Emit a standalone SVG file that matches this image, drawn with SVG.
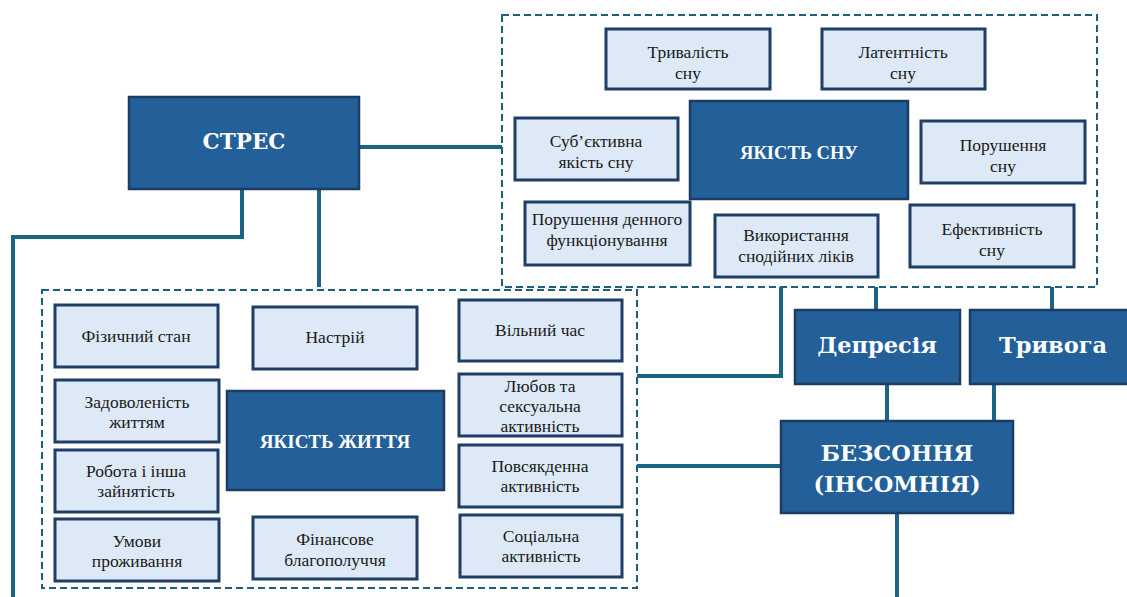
<svg xmlns="http://www.w3.org/2000/svg" width="1127" height="597" viewBox="0 0 1127 597">
<style>
.frame{fill:none;stroke:#1d5e7e;stroke-width:2;stroke-dasharray:7 4}
.lt{fill:#dde9f6;stroke:#1f3e66;stroke-width:3}
.dk{fill:#235f99;stroke:#1b3d64;stroke-width:2.5}
.lbl{font-family:"Liberation Serif","DejaVu Serif",serif;font-size:17.5px;fill:#1a1a1a;text-anchor:middle}
.dkl{font-family:"Liberation Serif","DejaVu Serif",serif;font-weight:bold;fill:#fff;text-anchor:middle}
.wide{font-family:"DejaVu Serif","Liberation Serif",serif;font-weight:bold;fill:#fff;text-anchor:middle}
.con{fill:none;stroke:#1b6584;stroke-width:4}
</style>
<rect width="1127" height="597" fill="#fff"/>
<g id="frames">
<rect class="frame" x="502" y="15" width="595" height="272"/>
<rect class="frame" x="42" y="290" width="595" height="298"/>
</g>
<g id="connectors">
<path class="con" d="M359 147 H502"/>
<path class="con" d="M242 189 V237 H13 V597"/>
<path class="con" d="M319 189 V287"/>
<path class="con" d="M781 287 V376 H637"/>
<path class="con" d="M876 287 V310"/>
<path class="con" d="M1052 287 V310"/>
<path class="con" d="M887 384 V421"/>
<path class="con" d="M994 384 V430"/>
<path class="con" d="M781 466 H637"/>
<path class="con" d="M897 513 V597"/>
</g>
<g id="stres"><rect class="dk" x="129" y="97" width="230" height="92"/><text class="wide" x="244" y="149" font-size="21.5">СТРЕС</text></g>
<g id="sleep-duration"><rect class="lt" x="606" y="29" width="164" height="60"/><text class="lbl" x="688" y="58">Тривалість</text><text class="lbl" x="688" y="79">сну</text></g>
<g id="sleep-latency"><rect class="lt" x="822" y="29" width="163" height="60"/><text class="lbl" x="903" y="58">Латентність</text><text class="lbl" x="903" y="79">сну</text></g>
<g id="sleep-quality"><rect class="dk" x="690" y="101" width="218" height="98"/><text class="dkl" x="799" y="159" font-size="18.5">ЯКІСТЬ СНУ</text></g>
<g id="subjective"><rect class="lt" x="515" y="118" width="163" height="62"/><text class="lbl" x="596" y="147">Суб’єктивна</text><text class="lbl" x="596" y="168">якість сну</text></g>
<g id="sleep-disturbance"><rect class="lt" x="921" y="121" width="164" height="62"/><text class="lbl" x="1003" y="151">Порушення</text><text class="lbl" x="1003" y="172">сну</text></g>
<g id="daytime"><rect class="lt" x="525" y="202" width="165" height="63"/><text class="lbl" x="607" y="225">Порушення денного</text><text class="lbl" x="607" y="246">функціонування</text></g>
<g id="medication"><rect class="lt" x="715" y="215" width="163" height="62"/><text class="lbl" x="796" y="241">Використання</text><text class="lbl" x="796" y="262">снодійних ліків</text></g>
<g id="efficiency"><rect class="lt" x="910" y="205" width="164" height="62"/><text class="lbl" x="992" y="235">Ефективність</text><text class="lbl" x="992" y="256">сну</text></g>
<g id="physical"><rect class="lt" x="55" y="305" width="163" height="62"/><text class="lbl" x="136" y="342">Фізичний стан</text></g>
<g id="mood"><rect class="lt" x="253" y="307" width="164" height="62"/><text class="lbl" x="335" y="343">Настрій</text></g>
<g id="leisure"><rect class="lt" x="459" y="300" width="163" height="61"/><text class="lbl" x="540" y="336">Вільний час</text></g>
<g id="satisfaction"><rect class="lt" x="55" y="380" width="164" height="62"/><text class="lbl" x="137" y="408">Задоволеність</text><text class="lbl" x="137" y="428">життям</text></g>
<g id="life-quality"><rect class="dk" x="227" y="391" width="217" height="99"/><text class="dkl" x="335" y="448" font-size="19">ЯКІСТЬ ЖИТТЯ</text></g>
<g id="love"><rect class="lt" x="459" y="374" width="163" height="62"/><text class="lbl" x="540" y="392">Любов та</text><text class="lbl" x="540" y="412">сексуальна</text><text class="lbl" x="540" y="432">активність</text></g>
<g id="work"><rect class="lt" x="55" y="450" width="163" height="62"/><text class="lbl" x="136" y="477">Робота і інша</text><text class="lbl" x="136" y="497">зайнятість</text></g>
<g id="daily"><rect class="lt" x="459" y="445" width="163" height="62"/><text class="lbl" x="540" y="472">Повсякденна</text><text class="lbl" x="540" y="492">активність</text></g>
<g id="housing"><rect class="lt" x="55" y="519" width="164" height="62"/><text class="lbl" x="137" y="547">Умови</text><text class="lbl" x="137" y="567">проживання</text></g>
<g id="finance"><rect class="lt" x="253" y="517" width="164" height="62"/><text class="lbl" x="335" y="545">Фінансове</text><text class="lbl" x="335" y="566">благополуччя</text></g>
<g id="social"><rect class="lt" x="460" y="515" width="162" height="62"/><text class="lbl" x="541" y="542">Соціальна</text><text class="lbl" x="541" y="562">активність</text></g>
<g id="depression"><rect class="dk" x="795" y="310" width="165" height="74"/><text class="wide" x="877" y="353" font-size="22.5">Депресія</text></g>
<g id="anxiety"><rect class="dk" x="970" y="310" width="170" height="74"/><text class="wide" x="1053" y="353" font-size="22.5">Тривога</text></g>
<g id="insomnia"><rect class="dk" x="781" y="421" width="232" height="92"/><text class="wide" x="897" y="461" font-size="22.5">БЕЗСОННЯ</text><text class="wide" x="897" y="492" font-size="22.5">(ІНСОМНІЯ)</text></g>
</svg>
